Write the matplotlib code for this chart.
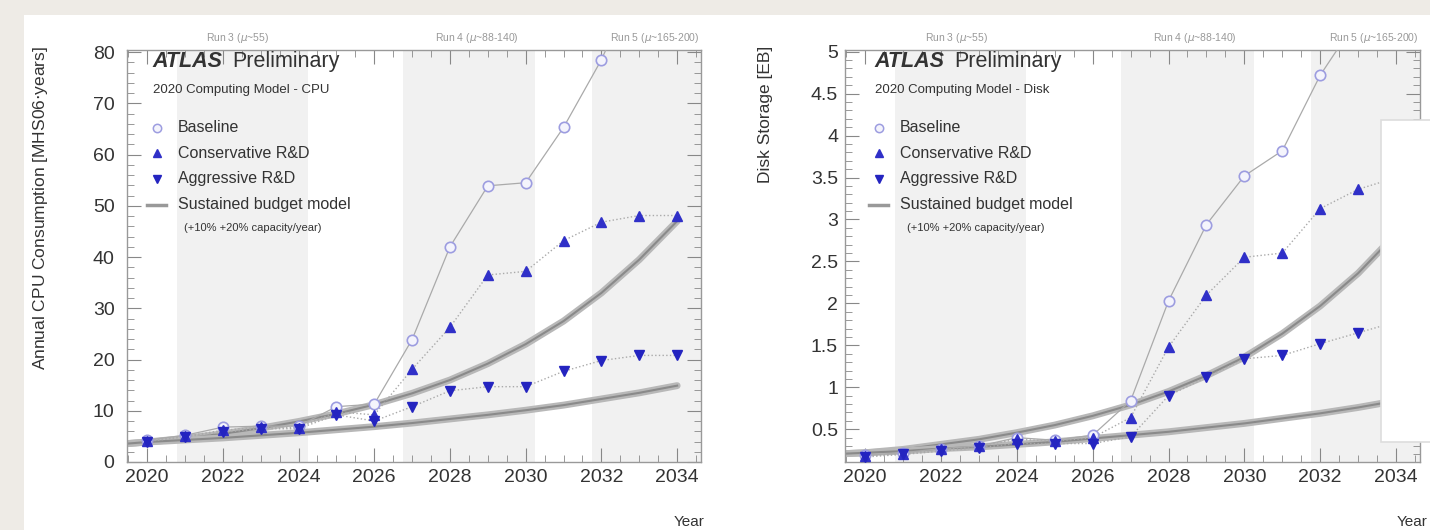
import matplotlib
matplotlib.use("Agg")
import matplotlib.pyplot as plt
from matplotlib.patches import Rectangle
from matplotlib.ticker import MultipleLocator

plt.rcParams['font.family'] = ['Liberation Sans', 'DejaVu Sans']

# data
years = [2020, 2021, 2022, 2023, 2024, 2025, 2026, 2027, 2028, 2029, 2030, 2031, 2032, 2033, 2034]
curve_years = [2019.5] + years

cpu_baseline = [4.3, 5.2, 6.8, 7.0, 7.0, 10.8, 11.3, 23.9, 42.0, 53.9, 54.5, 65.3, 78.5, 95.0]
cpu_conservative = [4.1, 5.0, 6.2, 6.8, 6.7, 9.8, 9.2, 18.1, 26.3, 36.5, 37.2, 43.2, 46.8, 48.1, 48.1]
cpu_aggressive = [4.0, 4.9, 5.8, 6.5, 6.5, 9.2, 8.0, 10.8, 13.9, 14.7, 14.7, 17.7, 19.8, 20.8, 20.8]
cpu_budget_20 = [3.6, 3.9, 4.6, 5.5, 6.6, 7.9, 9.4, 11.2, 13.4, 16.0, 19.2, 23.0, 27.5, 33.0, 39.5, 47.0]
cpu_budget_10 = [3.6, 3.9, 4.3, 4.7, 5.2, 5.7, 6.3, 6.9, 7.6, 8.4, 9.2, 10.1, 11.1, 12.3, 13.5, 14.9]

disk_baseline = [0.19, 0.22, 0.27, 0.30, 0.40, 0.37, 0.43, 0.84, 2.03, 2.94, 3.52, 3.82, 4.72, 5.4]
disk_conservative = [0.18, 0.21, 0.26, 0.30, 0.38, 0.36, 0.40, 0.64, 1.48, 2.10, 2.55, 2.60, 3.13, 3.36, 3.50]
disk_aggressive = [0.17, 0.20, 0.24, 0.28, 0.33, 0.33, 0.33, 0.41, 0.90, 1.12, 1.34, 1.38, 1.52, 1.65, 1.78]
disk_budget_20 = [0.21, 0.22, 0.26, 0.32, 0.38, 0.46, 0.55, 0.66, 0.79, 0.95, 1.14, 1.36, 1.64, 1.97, 2.36, 2.83]
disk_budget_10 = [0.21, 0.22, 0.24, 0.27, 0.29, 0.32, 0.35, 0.39, 0.43, 0.47, 0.52, 0.57, 0.63, 0.69, 0.76, 0.84]

run_bands = [(2020.8, 2024.25), (2026.75, 2030.25), (2031.75, 2035.0)]
run_labels = ["Run 3 ($\\mu$~55)", "Run 4 ($\\mu$~88-140)", "Run 5 ($\\mu$~165-200)"]
run_label_x = [2022.4, 2028.7, 2033.4]

W, H = 1430, 530
fig = plt.figure(figsize=(W / 100, H / 100), dpi=100)
fig.patch.set_facecolor('#eeebe6')
fig.add_artist(Rectangle((24 / W, 0), 1 - 24 / W, 1 - 15 / H, transform=fig.transFigure,
                         facecolor='white', edgecolor='none', zorder=-10))

txt = '#333333'


def panel(left_px, width_px, ylim, ymajor, yminor, ytitle, ylab_x, ypad, subtitle,
          text_x, base, cons, aggr, b20, b10):
    ax = fig.add_axes([left_px / W, 1 - 462 / H, width_px / W, 412 / H])
    ax.set_xlim(2019.47, 2034.63)
    ax.set_ylim(*ylim)
    for a, b in run_bands:
        ax.axvspan(a, b, color='#f1f1f1', lw=0, zorder=0)

    for b in (b20, b10):
        ax.plot(curve_years, b, color='#b8b8b8', lw=5, solid_capstyle='round', zorder=2)
        ax.plot(curve_years, b, color='#8a8a8a', lw=1.5, zorder=2)

    ax.plot(years[:len(base)], base, color='#aaaaaa', lw=0.9, zorder=3)
    ax.plot(years[:len(cons)], cons, color='#aaaaaa', lw=1.0, ls=':', zorder=3)
    ax.plot(years[:len(aggr)], aggr, color='#aaaaaa', lw=1.0, ls=':', zorder=3)
    ax.plot(years[:len(base)], base, ls='none', marker='o', ms=7.5, mfc='#f4f4fc',
            mec='#9d9de0', mew=1.2, zorder=4)
    ax.plot(years[:len(cons)], cons, ls='none', marker='^', ms=7.5, color='#3030c8', zorder=5)
    ax.plot(years[:len(aggr)], aggr, ls='none', marker='v', ms=7.5, color='#2424c0', zorder=5)

    ax.xaxis.set_major_locator(MultipleLocator(2))
    ax.xaxis.set_minor_locator(MultipleLocator(0.5))
    ax.yaxis.set_major_locator(MultipleLocator(ymajor))
    ax.yaxis.set_minor_locator(MultipleLocator(yminor))
    ax.tick_params(which='both', direction='in', top=True, right=True, colors='#888888',
                   labelcolor=txt, labelsize=14)
    ax.tick_params(which='major', length=10)
    ax.tick_params(which='minor', length=5)
    ax.tick_params(axis='x', pad=5)
    ax.tick_params(axis='y', pad=ypad)
    ax.yaxis.set_major_formatter('{x:g}')
    for s in ax.spines.values():
        s.set_color('#999999')
        s.set_linewidth(1.0)

    ax.set_ylabel(ytitle, fontsize=12.5, color=txt, loc='top')
    ax.yaxis.set_label_coords(ylab_x, 1.01)

    for lab, xc in zip(run_labels, run_label_x):
        ax.text(xc, 1.012, lab, transform=ax.get_xaxis_transform(), ha='center',
                va='bottom', fontsize=7.5, color='#999999')

    tr = ax.transAxes
    t = ax.text(text_x, 0.972, 'ATLAS', transform=tr, fontsize=15.5, fontweight='bold',
                fontstyle='italic', color=txt, va='center')
    ax.annotate('Preliminary', xy=(1, 0.5), xycoords=t, xytext=(7, 0),
                textcoords='offset points', fontsize=15.5, color=txt, va='center')
    ax.text(text_x, 0.903, subtitle, transform=tr, fontsize=9.5, color=txt, va='center')
    mx = text_x + 0.007
    ys = [0.811, 0.750, 0.687, 0.624]
    ax.plot([mx], [ys[0]], transform=tr, marker='o', ms=6, mfc='#f4f4fc', mec='#9d9de0', mew=1.1)
    ax.plot([mx], [ys[1]], transform=tr, marker='^', ms=6, color='#3030c8')
    ax.plot([mx], [ys[2]], transform=tr, marker='v', ms=6, color='#2424c0')
    ax.plot([mx - 0.017, mx + 0.016], [ys[3], ys[3]], transform=tr, color='#999999', lw=2.5)
    for yy, lab in zip(ys, ['Baseline', 'Conservative R&D', 'Aggressive R&D',
                            'Sustained budget model']):
        ax.text(text_x + 0.043, yy, lab, transform=tr, fontsize=11.5, color=txt, va='center')
    ax.text(text_x + 0.055, 0.568, '(+10% +20% capacity/year)', transform=tr, fontsize=8,
            color=txt, va='center')
    return ax


ax1 = panel(127, 574, (0, 80.4), 10, 2, 'Annual CPU Consumption [MHS06$\\cdot$years]', -0.135, 9,
            '2020 Computing Model - CPU', 0.045, cpu_baseline, cpu_conservative,
            cpu_aggressive, cpu_budget_20, cpu_budget_10)
ax2 = panel(845, 575, (0.11, 5.02), 0.5, 0.1, 'Disk Storage [EB]', -0.125, 5,
            '2020 Computing Model - Disk', 0.052, disk_baseline, disk_conservative,
            disk_aggressive, disk_budget_20, disk_budget_10)

fig.text(705 / W, 1 - 522 / H, 'Year', ha='right', va='center', fontsize=11, color=txt)
fig.text(1428 / W, 1 - 522 / H, 'Year', ha='right', va='center', fontsize=11, color=txt)

# slide element covering the right edge
fig.add_artist(Rectangle((1381 / W, 1 - 442 / H), 60 / W, 322 / H, transform=fig.transFigure,
                         facecolor='white', edgecolor='#dddddd', lw=1.2, zorder=20))

fig.savefig('out.png', dpi=100, facecolor=fig.get_facecolor())
